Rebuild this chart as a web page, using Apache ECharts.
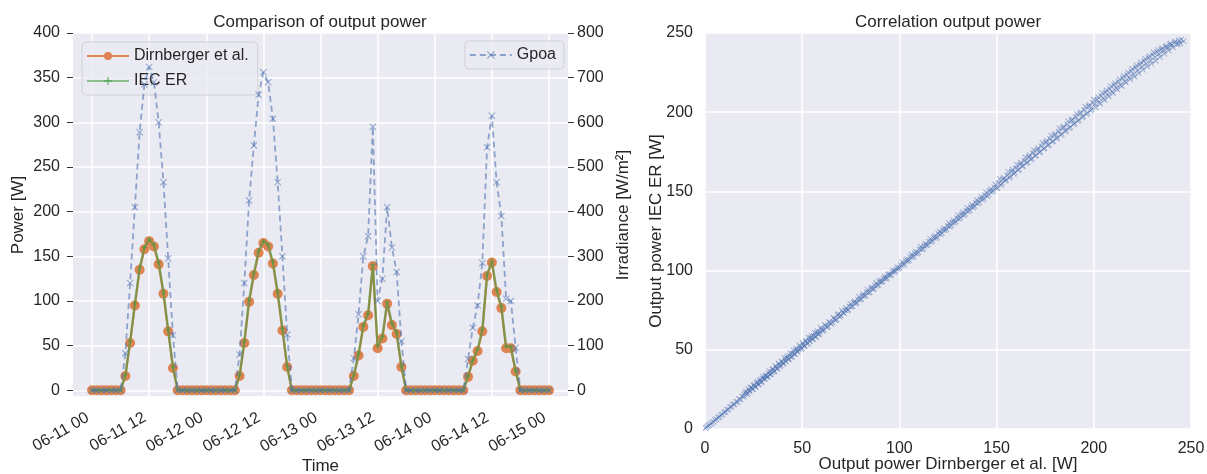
<!DOCTYPE html>
<html><head><meta charset="utf-8">
<script src="https://cdn.jsdelivr.net/npm/echarts@6/dist/echarts.min.js"></script>
<style>html,body{margin:0;padding:0;background:#fff}#c{width:1207px;height:474px}</style>
</head><body><div id="c"></div>
<script>
// ---- data (hourly, 06-11 00 .. 06-15 00) ----
const hoursCount = 97; // number of hourly samples
const dirnberger = [
  0,0,0,0,0,0,0, 16,53,95,135,158,167,161,141,108,66,25, 0,0,0,0,0,0,
  0,0,0,0,0,0,0, 16,53,99,129,154,165,161,142,108,67,26, 0,0,0,0,0,0,
  0,0,0,0,0,0,0, 16,39,71,84,139,47,58,97,73,63,26, 0,0,0,0,0,0,
  0,0,0,0,0,0,0, 15,33,44,66,128,143,110,92,47,47,21, 0,0,0,0,0,0,
  0];
const iecER = [
  0,0,0,0,0,0,0, 17,55,97,137,160,169,163,143,110,68,26, 0,0,0,0,0,0,
  0,0,0,0,0,0,0, 17,55,101,131,156,167,163,144,110,69,27, 0,0,0,0,0,0,
  0,0,0,0,0,0,0, 17,41,73,86,141,49,60,99,75,65,27, 0,0,0,0,0,0,
  0,0,0,0,0,0,0, 16,34,46,68,130,145,112,94,49,49,22, 0,0,0,0,0,0,
  0];
const gpoa = [
  0,0,0,0,0,0,0, 83,240,410,578,685,724,690,600,466,295,123, 0,0,0,0,0,0,
  0,0,0,0,0,0,0, 80,240,425,548,662,712,690,608,466,300,125, 0,0,0,0,0,0,
  0,0,0,0,0,0,0, 72,170,300,345,590,200,250,410,320,265,110, 0,0,0,0,0,0,
  0,0,0,0,0,0,0, 70,140,190,285,544,615,466,390,205,200,95, 0,0,0,0,0,0,
  0];
const padHours = 4;            // axis margin on each side, in hours
const labelEveryHours = 12;
// correlation scatter: [Dirnberger, IEC ER]
const corrPoints = [
[0.3,0.5],[0.8,1.2],[1.5,1.9],[2.1,2.6],[3.0,3.2],[3.6,4.1],[4.4,4.6],[5.1,5.7],[5.9,6.2],[6.7,7.3],[7.4,7.6],[8.2,8.9],[9.0,9.3],[9.8,10.6],[10.5,10.8],[11.3,12.2],[12.1,12.4],[12.9,13.9],[13.6,14.0],[14.4,15.5],[15.2,15.6],[16.0,17.2],[16.8,17.1],[17.5,18.9],[18.3,18.7],[19.1,20.6],[19.9,20.3],
[20.7,22.9],[21.5,22.0],[22.3,25.1],[23.0,23.6],[23.8,26.4],[24.6,25.2],[25.4,28.0],[26.1,26.8],[26.9,29.9],[27.7,28.3],[28.5,31.3],[29.2,30.0],[30.0,33.2],[30.8,31.5],[31.6,34.0],[32.3,33.1],[33.1,36.5],[33.9,34.6],[34.7,37.4],[35.4,36.2],[36.2,39.8],[37.0,37.8],[37.8,41.5],[38.5,39.4],[39.3,42.6],[40.1,41.0],[40.9,44.8],[41.6,42.6],[42.4,46.0],[43.2,44.1],[44.0,47.9],[44.7,45.8],[45.5,49.6],[46.3,47.3],[47.1,50.8],[47.8,48.9],[48.6,52.9],[49.4,50.5],[50.2,54.4],[50.9,52.1],[51.7,55.3],[52.5,53.7],[53.3,57.8],[54.0,55.3],[54.8,58.9],[55.6,56.9],[56.4,60.8],[57.1,58.4],[57.9,61.7],[58.7,60.0],[59.5,63.9],
[60.5,61.9],[61.6,65.8],[62.7,64.1],[63.8,67.5],[64.9,66.3],[66.0,70.3],[67.1,68.6],[68.2,71.9],[69.3,70.8],[70.4,74.8],[71.5,73.0],[72.6,76.4],[73.7,75.3],[74.8,79.1],[75.9,77.5],[77.0,80.6],[78.1,79.8],[79.2,83.5],[80.3,82.0],[81.4,85.2],[82.5,84.3],[83.6,87.9],[84.7,86.5],[85.8,89.4],[86.9,88.7],[88.0,92.1],[89.1,91.0],[90.2,93.8],[91.3,93.2],[92.4,96.3],[93.5,95.4],[94.6,97.9],[95.7,97.6],[96.8,100.2],[97.9,99.8],[99.0,102.1],
[100.2,101.9],[101.4,105.3],[102.6,104.3],[103.8,107.0],[105.0,106.8],[106.2,110.1],[107.4,109.2],[108.6,111.9],[109.8,111.6],[111.0,115.2],[112.2,114.0],[113.4,116.9],[114.6,116.5],[115.8,120.1],[117.0,118.9],[118.2,121.8],[119.4,121.3],[120.6,124.9],[121.8,123.8],[123.0,126.7],[124.2,126.2],[125.4,130.0],[126.6,128.6],[127.8,131.6],[129.0,131.1],[130.2,134.9],[131.4,133.5],[132.6,136.8],[133.8,135.9],[135.0,139.6],[136.2,138.3],[137.4,141.5],[138.6,140.8],[139.8,144.6],[141.0,143.2],[142.2,146.5],[143.4,145.6],[144.6,149.4],[145.8,148.1],[147.0,151.3],[148.2,150.5],[149.4,154.3],
[150.5,152.0],[151.6,157.9],[152.7,155.1],[153.8,158.6],[154.9,157.3],[156.0,162.4],[157.1,159.5],[158.2,163.8],[159.3,161.8],[160.4,166.9],[161.5,164.0],[162.6,168.2],[163.7,166.2],[164.8,171.5],[165.9,168.5],[167.0,172.9],[168.1,170.7],[169.2,176.0],[170.3,172.9],[171.4,177.4],[172.5,175.1],[173.6,180.6],[174.7,177.4],[175.8,182.0],[176.9,179.6],[178.0,185.2],[179.1,181.8],[180.2,186.4],[181.3,184.1],[182.4,189.8],[183.5,186.3],[184.6,191.0],[185.7,188.5],[186.8,194.3],[187.9,190.7],[189.0,195.5],[190.1,193.0],[191.2,198.9],[192.3,195.2],[193.4,200.0],[194.5,197.4],[195.6,203.5],[196.7,199.7],[197.8,204.6],[198.9,201.9],
[200.0,208.0],[201.1,203.0],[202.2,209.6],[203.3,205.4],[204.4,212.1],[205.5,207.6],[206.6,213.8],[207.7,209.9],[208.8,216.4],[209.9,212.0],[211.0,218.3],[212.1,214.3],[213.2,220.8],[214.3,216.5],[215.4,222.9],[216.5,218.7],[217.6,225.1],[218.7,220.8],[219.8,227.4],[220.9,222.5],[222.0,229.6],[223.1,224.6],[224.2,231.5],[225.3,226.8],[226.4,233.7],[227.5,228.9],[228.6,235.4],[229.7,230.6],[230.8,237.8],[231.9,232.5],[233.0,239.2],[234.1,234.8],[235.2,240.5],[236.3,236.9],[237.4,241.8],[238.5,239.0],[239.6,243.3],[240.7,240.9],[242.0,244.6],[243.5,243.1],[245.0,245.9],[246.2,244.8]
];
const corrPointsMid = [
[20.2,21.8],[21.1,23.9],[22.0,22.7],[22.8,24.4],[23.5,26.0],[24.3,25.1],[25.0,27.3],[25.8,26.5],[26.5,28.9],[27.3,28.1],[28.1,30.2],[28.9,29.4],[29.6,32.0],[30.4,31.6],[31.2,33.4],[31.9,32.6],[32.7,35.1],[33.5,34.3],[34.3,36.0],[35.0,37.9],[35.8,36.6],[36.6,38.9],[37.4,38.3],[38.1,40.7],[38.9,40.2],[39.7,42.4],[40.5,41.8],[41.3,43.1],[42.0,44.9],[42.8,43.9],[43.6,46.4],[44.4,45.2],[45.1,47.8],[45.9,47.4],[46.7,49.9],[47.4,49.0],[48.2,50.4],[49.0,51.9],[49.8,51.1],[50.6,53.4],[51.3,52.5],[52.1,55.6],[52.9,54.3],[53.7,56.0],[54.4,57.5],[55.2,56.6],[56.0,58.9],[56.8,58.1],[57.5,60.5],[58.3,59.8],[59.1,61.4],
[60.0,62.9],[61.1,62.6],[62.2,65.1],[63.3,64.8],[64.4,67.0],[65.5,67.3],[66.6,69.5],[67.7,69.2],[68.8,72.4],[69.9,71.6],[71.0,73.6],[72.1,74.9],[73.2,74.8],[74.3,77.4],[75.4,77.1],[76.5,79.8],[77.6,79.3],[78.7,81.6],[79.8,81.7],[80.9,84.1],[82.0,83.8],[83.1,86.3],[84.2,86.0],[85.3,88.7],[86.4,88.1],[87.5,90.4],[88.6,90.6],[89.7,92.9],[90.8,92.6],[91.9,94.9],[93.0,94.9],[94.1,97.3],[95.2,96.9],[96.3,99.0],[97.4,99.2],[98.5,101.0],[99.6,101.2],
[100.8,103.3],[102.0,103.5],[103.2,106.1],[104.4,106.0],[105.6,108.6],[106.8,108.4],[108.0,110.9],[109.2,110.8],[110.4,113.6],[111.6,113.3],[112.8,115.6],[114.0,115.8],[115.2,118.3],[116.4,118.1],[117.6,120.7],[118.8,120.5],[120.0,123.3],[121.2,122.9],[122.4,125.6],[123.6,125.4],[124.8,128.2],[126.0,127.7],[127.2,130.3],[128.4,130.2],[129.6,133.1],[130.8,132.5],[132.0,135.3],[133.2,135.0],[134.4,137.9],[135.6,137.4],[136.8,140.2],[138.0,139.9],[139.2,142.8],[140.4,142.3],[141.6,145.2],[142.8,144.8],[144.0,147.7],[145.2,147.0],[146.4,150.2],[147.6,149.6],[148.8,152.5],[150.0,152.3],
[151.1,155.2],[152.2,153.9],[153.3,157.6],[154.4,156.7],[155.5,160.1],[156.6,158.6],[157.7,162.5],[158.8,161.0],[159.9,164.6],[161.0,163.4],[162.1,167.1],[163.2,165.8],[164.3,169.4],[165.4,167.9],[166.5,171.7],[167.6,170.1],[168.7,174.2],[169.8,172.4],[170.9,176.3],[172.0,174.6],[173.1,178.5],[174.2,176.9],[175.3,181.0],[176.4,179.0],[177.5,183.2],[178.6,181.3],[179.7,185.6],[180.8,183.2],[181.9,187.7],[183.0,185.6],[184.1,190.2],[185.2,187.8],[186.3,192.4],[187.4,189.9],[188.5,194.7],[189.6,192.3],[190.7,196.9],[191.8,194.4],[192.9,199.3],[194.0,196.7],[195.1,201.4],[196.2,198.8],[197.3,203.8],[198.4,201.0],[199.5,205.8],
[200.6,205.2],[201.7,207.9],[202.8,206.3],[203.9,210.2],[205.0,208.8],[206.1,212.5],[207.2,210.9],[208.3,214.6],[209.4,213.0],[210.5,217.1],[211.6,215.3],[212.7,219.2],[213.8,217.4],[214.9,221.6],[216.0,219.5],[217.1,223.5],[218.2,221.8],[219.3,226.0],[220.4,224.0],[221.5,228.1],[222.6,226.2],[223.7,230.0],[224.8,228.5],[225.9,232.2],[227.0,230.6],[228.1,234.3],[229.2,232.5],[230.3,236.1],[231.4,234.8],[232.5,238.0],[233.6,236.7],[234.7,239.6],[235.8,238.6],[236.9,241.4],[238.0,240.4],[239.1,242.8],[240.2,242.2],[241.4,244.0],[242.6,242.9],[243.8,245.2],[244.6,243.6]
];

// ---- build category axis (hourly, padded) ----
function hourLabel(h){
  const day = 11 + Math.floor(h/24);
  const hh = ((h % 24) + 24) % 24;
  return '06-' + String(day).padStart(2,'0') + ' ' + String(hh).padStart(2,'0');
}
const categories = [];
for (let h = -padHours; h <= hoursCount - 1 + padHours; h++) categories.push(hourLabel(h));
const showTick = (idx) => {
  const h = idx - padHours;
  return h >= 0 && h <= hoursCount - 1 && h % labelEveryHours === 0;
};
const toPairs = (arr) => arr.map((v, i) => [i + padHours, v]);

const FONT = 'Liberation Sans, Arial, sans-serif';
const TXT = '#262626';
const BG = '#EAEAF2';
const xPath = 'path://M1,0L5,4L9,0L10,1L6,5L10,9L9,10L5,6L1,10L0,9L4,5L0,1Z';
const plusPath = 'path://M4,0L6,0L6,4L10,4L10,6L6,6L6,10L4,10L4,6L0,6L0,4L4,4Z';

const chart = echarts.init(document.getElementById('c'), null, {renderer:'canvas'});
chart.setOption({
  animation: false,
  backgroundColor: '#ffffff',
  textStyle: {fontFamily: FONT, color: TXT},
  title: [
    {text:'Comparison of output power', left:320, top:14, textAlign:'center', padding:0,
     textStyle:{fontSize:17, fontWeight:'normal', color:TXT, fontFamily:FONT}},
    {text:'Correlation output power', left:948, top:14, textAlign:'center', padding:0,
     textStyle:{fontSize:17, fontWeight:'normal', color:TXT, fontFamily:FONT}}
  ],
  legend: [
    {data:['Dirnberger et al.','IEC ER'], left:82, top:42, orient:'vertical',
     backgroundColor:'rgba(234,234,242,0.8)', borderColor:'#d0d0d6', borderWidth:1, borderRadius:4,
     padding:[6,9,6,4], itemGap:9, itemWidth:42, itemHeight:10,
     textStyle:{fontSize:16, color:TXT, fontFamily:FONT}},
    {data:['Gpoa'], right:643, top:41, orient:'vertical',
     backgroundColor:'rgba(234,234,242,0.8)', borderColor:'#d0d0d6', borderWidth:1, borderRadius:4,
     padding:[6,8,6,4], itemWidth:42, itemHeight:10,
     textStyle:{fontSize:16, color:TXT, fontFamily:FONT}}
  ],
  grid: [
    {left:73, top:33, width:495, height:364, show:true, backgroundColor:BG, borderWidth:0,
     containLabel:false, outerBoundsMode:'none'},
    {left:705, top:33, width:486, height:396, show:true, backgroundColor:BG, borderWidth:0,
     containLabel:false, outerBoundsMode:'none'}
  ],
  xAxis: [
    {type:'category', gridIndex:0, data:categories, boundaryGap:false,
     axisLine:{show:false}, axisTick:{show:false},
     axisLabel:{interval:showTick, rotate:30, fontSize:16, color:TXT, margin:17, padding:[0,5,0,0], fontFamily:FONT},
     splitLine:{show:true, interval:showTick, lineStyle:{color:'#ffffff', width:1.5}},
     name:'Time', nameLocation:'middle', nameGap:61, nameMoveOverlap:false,
     nameTextStyle:{fontSize:17, color:TXT, fontFamily:FONT}},
    {type:'value', gridIndex:1, min:0, max:250, interval:50,
     axisLine:{show:false}, axisTick:{show:false},
     axisLabel:{fontSize:16, color:TXT, margin:12, fontFamily:FONT},
     splitLine:{show:true, lineStyle:{color:'#ffffff', width:1.5}},
     name:'Output power Dirnberger et al. [W]', nameLocation:'middle', nameGap:27, nameMoveOverlap:false,
     nameTextStyle:{fontSize:17, color:TXT, fontFamily:FONT}}
  ],
  yAxis: [
    {type:'value', gridIndex:0, min:-7.5, max:400, splitNumber:8,
     axisLine:{show:false}, axisTick:{show:true, length:6, lineStyle:{color:'#333'}},
     axisLabel:{fontSize:16, color:TXT, margin:13, showMinLabel:false, fontFamily:FONT},
     splitLine:{show:true, lineStyle:{color:'#ffffff', width:1.5}},
     name:'Power [W]', nameLocation:'middle', nameGap:46, nameMoveOverlap:false,
     nameTextStyle:{fontSize:17, color:TXT, fontFamily:FONT}},
    {type:'value', gridIndex:0, position:'right', min:-15, max:800, splitNumber:8,
     axisLine:{show:false}, axisTick:{show:true, length:6, lineStyle:{color:'#333'}},
     axisLabel:{fontSize:16, color:TXT, margin:9, showMinLabel:false, fontFamily:FONT,
       formatter:(v)=> v < 0 ? '' : String(v)},
     splitLine:{show:false},
     name:'Irradiance [W/m²]', nameLocation:'middle', nameGap:47, nameRotate:90, nameMoveOverlap:false,
     nameTextStyle:{fontSize:17, color:TXT, fontFamily:FONT}},
    {type:'value', gridIndex:1, min:0, max:250, interval:50,
     axisLine:{show:false}, axisTick:{show:false},
     axisLabel:{fontSize:16, color:TXT, margin:12, fontFamily:FONT},
     splitLine:{show:true, lineStyle:{color:'#ffffff', width:1.5}},
     name:'Output power IEC ER [W]', nameLocation:'middle', nameGap:40, nameMoveOverlap:false,
     nameTextStyle:{fontSize:17, color:TXT, fontFamily:FONT}}
  ],
  series: [
    {name:'Dirnberger et al.', type:'line', xAxisIndex:0, yAxisIndex:0, data:toPairs(dirnberger),
     symbol:'circle', symbolSize:10, showAllSymbol:true, color:'#DD8452',
     lineStyle:{width:2.2, color:'#DD8452'}, itemStyle:{color:'#DD8452'}, z:2},
    {name:'IEC ER', type:'line', xAxisIndex:0, yAxisIndex:0, data:toPairs(iecER),
     symbol:plusPath, symbolSize:5, showAllSymbol:true, color:'#3a9a3a',
     lineStyle:{width:2.4, color:'#3a9a3a', opacity:0.55}, itemStyle:{color:'#3a9a3a', opacity:0.55}, z:3},
    {name:'Gpoa', type:'line', xAxisIndex:0, yAxisIndex:1, data:toPairs(gpoa),
     symbol:xPath, symbolSize:7, showAllSymbol:true, color:'#4C72B0',
     lineStyle:{width:1.8, type:[6,4], color:'#4C72B0', opacity:0.6}, itemStyle:{color:'#4C72B0', opacity:0.6}, z:4},
    {name:'corr', type:'scatter', xAxisIndex:1, yAxisIndex:2, data:corrPoints,
     symbol:xPath, symbolSize:6, itemStyle:{color:'#4C72B0', opacity:0.6}},
    {name:'corrMid', type:'scatter', xAxisIndex:1, yAxisIndex:2, data:corrPointsMid,
     symbol:xPath, symbolSize:6, itemStyle:{color:'#4C72B0', opacity:0.6}}
  ]
});
</script></body></html>
